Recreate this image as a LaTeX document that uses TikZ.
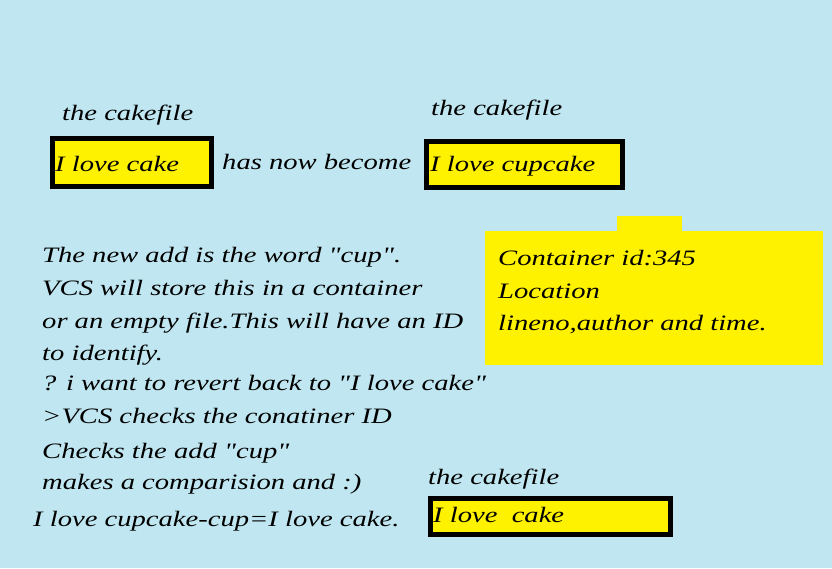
\documentclass[tikz,border=0pt]{standalone}
\usepackage{fontspec}
\newfontfamily\hand[FakeStretch=1.3]{Liberation Serif}
\definecolor{bgblue}{RGB}{192,231,241}
\definecolor{yel}{RGB}{255,242,0}
\begin{document}
\begin{tikzpicture}[x=1pt,y=-1pt,
  txt/.style={anchor=base west,inner sep=0pt,font=\hand\itshape\fontsize{22}{24}\selectfont,text=black},
  filebox/.style={draw=black,line width=5pt,fill=yel},
  note/.style={fill=yel}]
\fill[bgblue] (0,0) rectangle (832,568);
\useasboundingbox (0,0) rectangle (832,568);
% top files
\node[txt] (l1) at (62,120) {the cakefile};
\draw[filebox] (52.5,138.5) rectangle (211.5,186.5);
\node[txt] (b1) at (55,171) {I love cake};
\node[txt] (hn) at (222,169) {has now become};
\node[txt] (l2) at (431,115) {the cakefile};
\draw[filebox] (426.5,141.5) rectangle (622.5,187.5);
\node[txt] (b2) at (430,171) {I love cupcake};
% container
\fill[note] (617,216) rectangle (682,232);
\fill[note] (485,231) rectangle (823,365);
\node[txt] (c1) at (498,265) {Container id:345};
\node[txt] (c2) at (498,298) {Location};
\node[txt] (c3) at (498,330) {lineno,author and time.};
% paragraph
\node[txt] (p1) at (42,262) {The new add is the word "cup".};
\node[txt] (p2) at (42,295) {VCS will store this in a container};
\node[txt] (p3) at (42,328) {or an empty file.This will have an ID};
\node[txt] (p4) at (42,360) {to identify.};
\node[txt] (p5) at (42,390) {? i want to revert back to "I love cake"};
\node[txt] (p6) at (42,423) {>VCS checks the conatiner ID};
\node[txt] (p7) at (42,458) {Checks the add "cup"};
\node[txt] (p8) at (42,489) {makes a comparision and :)};
\node[txt] (p9) at (33,526) {I love cupcake-cup=I love cake.};
% bottom file
\node[txt] (l3) at (428,484) {the cakefile};
\draw[filebox] (430.5,498.5) rectangle (670.5,534.5);
\node[txt] (b3) at (433,522) {I love\ \ cake};
\end{tikzpicture}
\end{document}
